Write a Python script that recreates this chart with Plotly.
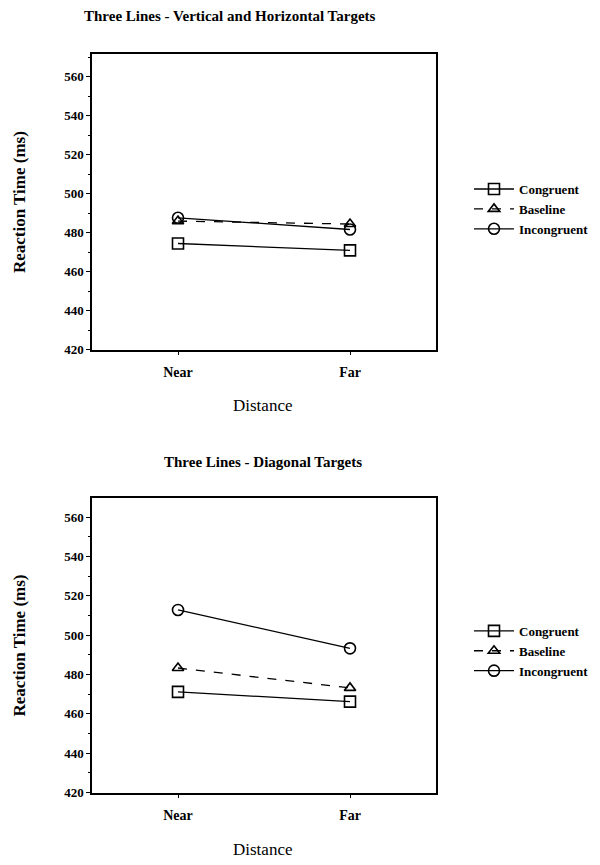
import plotly.graph_objects as go

categories = ["Near", "Far"]
series_names = ["Congruent", "Baseline", "Incongruent"]

top_congruent = [474.5, 471]
top_baseline = [486, 484.5]
top_incongruent = [487.7, 481.7]

bot_congruent = [471.2, 466.2]
bot_baseline = [483.3, 473.2]
bot_incongruent = [512.8, 493.3]

y_ticks = [420, 440, 460, 480, 500, 520, 540, 560]

titles = ["Three Lines - Vertical and Horizontal Targets", "Three Lines - Diagonal Targets"]
x_title = "Distance"

FONT = "Liberation Serif"
styles = {
    "Congruent": dict(symbol="square-open", size=11, dash="solid"),
    "Baseline": dict(symbol="triangle-up-open", size=10, dash="dash"),
    "Incongruent": dict(symbol="circle-open", size=11, dash="solid"),
}

fig = go.Figure()

panels = [
    ("x", "y", "legend", [top_congruent, top_baseline, top_incongruent]),
    ("x2", "y2", "legend2", [bot_congruent, bot_baseline, bot_incongruent]),
]
for xa, ya, lg, vals in panels:
    for name, v in zip(series_names, vals):
        st = styles[name]
        fig.add_trace(go.Scatter(
            x=categories, y=v, name=name, xaxis=xa, yaxis=ya, legend=lg,
            mode="lines+markers",
            line=dict(color="black", width=1.3, dash=st["dash"]),
            marker=dict(symbol=st["symbol"], size=st["size"], color="black",
                        line=dict(color="black", width=1.6)),
        ))

def yaxis(domain, top):
    return dict(
        domain=domain, range=[420, top], tickvals=y_ticks,
        showline=True, mirror=True, linecolor="black", linewidth=1.5,
        ticks="outside", ticklen=4, tickwidth=1.2, tickcolor="black",
        minor=dict(dtick=10, ticks="outside", ticklen=2, tickcolor="black"),
        showgrid=False, zeroline=False,
        tickfont=dict(family=FONT, size=13, color="black", weight="bold"),
        title=dict(text="Reaction Time (ms)", standoff=34,
                   font=dict(family=FONT, size=17, color="black", weight="bold")),
    )

def xaxis(anchor):
    return dict(
        domain=[92/600, 436/600], type="category", range=[-0.5, 1.5], anchor=anchor,
        showline=True, mirror=True, linecolor="black", linewidth=1.5,
        ticks="outside", ticklen=4, tickwidth=1.2, tickcolor="black",
        ticklabelstandoff=5,
        showgrid=False, zeroline=False,
        tickfont=dict(family=FONT, size=14, color="black", weight="bold"),
    )

legend_common = dict(
    xanchor="left", yanchor="middle", bgcolor="rgba(0,0,0,0)",
    font=dict(family=FONT, size=13, color="black", weight="bold"),
    tracegroupgap=0, itemwidth=40,
)

ann_font = dict(family=FONT, size=15, color="black", weight="bold")
def ann(text, x, y, font):
    return dict(text=text, x=x/600, y=1 - y/865, xref="paper", yref="paper",
                xanchor="center", yanchor="middle", showarrow=False, font=font)

fig.update_layout(
    width=600, height=865, margin=dict(l=0, r=0, t=0, b=0),
    paper_bgcolor="white", plot_bgcolor="white",
    showlegend=True,
    xaxis=xaxis("y"),
    yaxis=yaxis([1 - 353/865, 1 - 55/865], 571.5),
    xaxis2=xaxis("y2"),
    yaxis2=yaxis([1 - 800/865, 1 - 503/865], 569.5),
    legend=dict(x=469/600, y=1 - 211/865, **legend_common),
    legend2=dict(x=469/600, y=1 - 657/865, **legend_common),
    annotations=[
        ann(titles[0], 230, 16, ann_font),
        ann(titles[1], 263, 466, ann_font),
        ann(x_title, 262, 409, dict(family=FONT, size=17, color="black")),
        ann(x_title, 262, 857, dict(family=FONT, size=17, color="black")),
    ],
)

fig.write_html("out.html")
